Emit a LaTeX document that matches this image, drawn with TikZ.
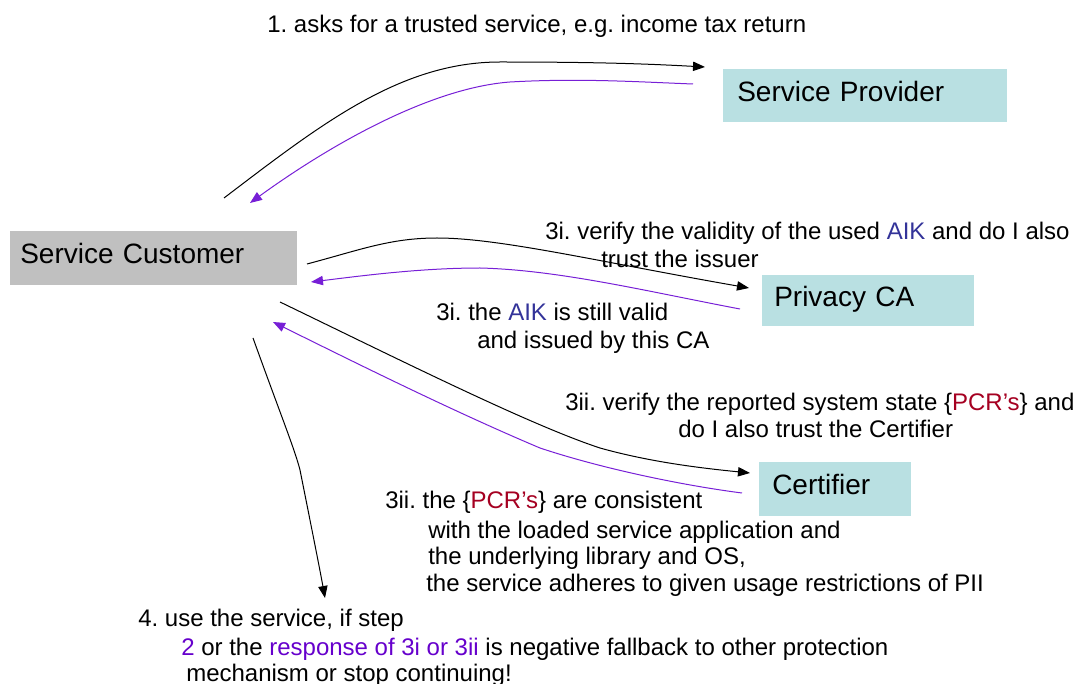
\documentclass[tikz,border=0pt]{standalone}
\usepackage{fontspec}
\setmainfont{Liberation Sans}
\usetikzlibrary{arrows.meta}
\frenchspacing

\definecolor{boxcyan}{RGB}{185,224,226}
\definecolor{boxgray}{RGB}{192,192,192}
\definecolor{flowviolet}{RGB}{119,31,214}
\definecolor{aikblue}{RGB}{51,51,153}
\definecolor{pcrred}{RGB}{165,0,33}
\definecolor{notepurple}{RGB}{102,0,204}

\tikzset{
  party/.style={anchor=north west, inner ysep=0pt, text height=15pt, text depth=6.5pt,
    align=left, font=\fontsize{21}{25}\selectfont},
  note/.style={anchor=base west, inner sep=0pt, font=\fontsize{18}{21}\selectfont},
  request/.style={draw=black, line width=0.75pt, -{Triangle[length=9pt,width=7pt]}},
  reply/.style={draw=flowviolet, line width=0.75pt, -{Triangle[length=9pt,width=7pt]}},
}

\begin{document}
\begin{tikzpicture}[x=0.75pt, y=-0.75pt]
\useasboundingbox (0,0) rectangle (1076,684);

% parties
\node[party, fill=boxcyan, minimum width=213pt, minimum height=39.75pt,
      inner xsep=10.5pt, text width=192pt] (sp) at (723,69) {Service Provider};
\node[party, fill=boxgray, minimum width=215.25pt, minimum height=40.5pt,
      inner xsep=7.5pt, text width=200.25pt] (sc) at (10,231) {Service Customer};
\node[party, fill=boxcyan, minimum width=159pt, minimum height=38.25pt,
      inner xsep=9pt, text width=141pt] (pca) at (762,275) {Privacy CA};
\node[party, fill=boxcyan, minimum width=114pt, minimum height=40.5pt,
      inner xsep=9.75pt, text width=94.5pt] (cert) at (759,462) {Certifier};

% connector end points
\coordinate (a1s) at (224,198);  \coordinate (a1e) at (705,67);
\coordinate (b1s) at (693,84);   \coordinate (b1e) at (250,203);
\coordinate (a2s) at (307,264);  \coordinate (a2e) at (749,288);
\coordinate (b2s) at (740,309);  \coordinate (b2e) at (311,282);
\coordinate (a3s) at (280,302);  \coordinate (a3e) at (750,473);
\coordinate (b3s) at (742,493);  \coordinate (b3e) at (273,322);
\coordinate (a4s) at (253,338);  \coordinate (a4e) at (325,598);

% step 1: customer <-> service provider
\draw[request] (a1s) .. controls (320,125) and (400,62) .. (500,62)
               .. controls (600,62) and (650,64) .. (a1e);
\draw[reply] (b1s) .. controls (640,82) and (580,78) .. (510,82)
             .. controls (430,88) and (330,145) .. (b1e);

% step 3i: customer <-> privacy CA
\draw[request] (a2s) .. controls (360,250) and (390,238) .. (437,238)
               .. controls (500,238) and (600,262) .. (a2e);
\draw[reply] (b2s) .. controls (650,292) and (560,270) .. (480,268)
             .. controls (420,268) and (360,276) .. (b2e);

% step 3ii: customer <-> certifier
\draw[request] (a3s) .. controls (400,360) and (530,425) .. (600,448)
               .. controls (650,462) and (700,468) .. (a3e);
\draw[reply] (b3s) .. controls (680,485) and (600,468) .. (540,448)
             .. controls (450,410) and (350,360) .. (b3e);

% step 4
\draw[request] (a4s) .. controls (280,413) and (295,450) .. (300,470)
               .. controls (310,520) and (320,570) .. (a4e);

% notes
\node[note] (n1) at (267,33) {1. asks for a trusted service, e.g. income tax return};
\node[note] (n2a) at (545,240) {3i. verify the validity of the used {\color{aikblue}AIK} and do I also};
\node[note] (n2b) at (601,268) {trust the issuer};
\node[note] (n3a) at (436,321) {3i. the {\color{aikblue}AIK} is still valid};
\node[note] (n3b) at (477,349) {and issued by this CA};
\node[note] (n4a) at (565,411) {3ii. verify the reported system state \{{\color{pcrred}PCR’s}\} and};
\node[note] (n4b) at (678,438) {do I also trust the Certifier};
\node[note] (n5a) at (385,509) {3ii. the \{{\color{pcrred}PCR’s}\} are consistent};
\node[note] (n5b) at (428,538) {with the loaded service application and};
\node[note] (n5c) at (428,565) {the underlying library and OS,};
\node[note] (n5d) at (426,591) {the service adheres to given usage restrictions of PII};
\node[note] (n6a) at (138,627) {4. use the service, if step};
\node[note] (n6b) at (181,655) {{\color{notepurple}2} or the {\color{notepurple}response of 3i or 3ii} is negative fallback to other protection};
\node[note] (n6c) at (186,681) {mechanism or stop continuing!};
\end{tikzpicture}
\end{document}
